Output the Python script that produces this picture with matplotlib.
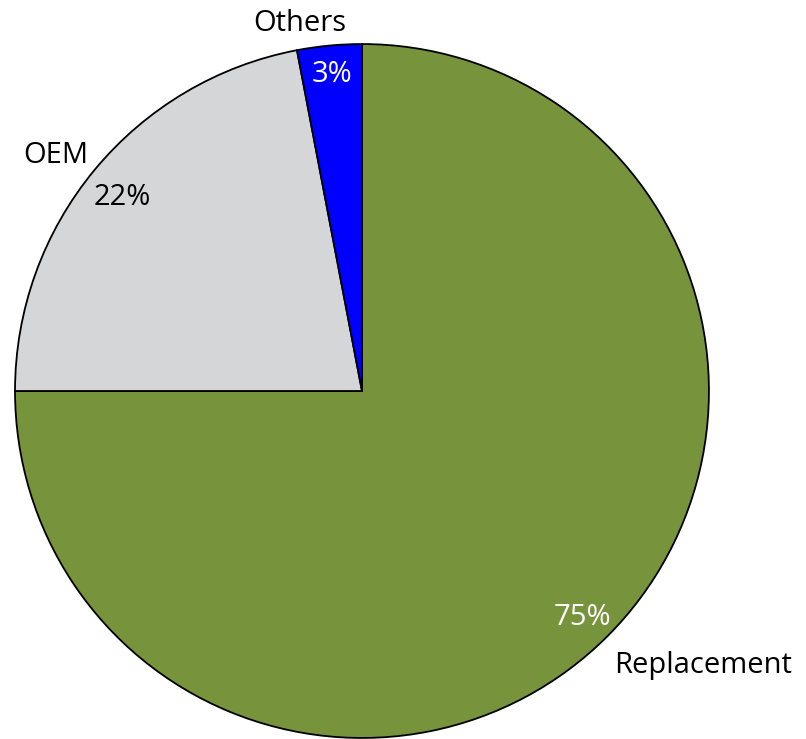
import matplotlib.pyplot as plt

labels = ["Replacement", "OEM", "Others"]
values = [75, 22, 3]
colors = ["#77933C", "#D5D6D8", "#0000FF"]
pct_colors = ["white", "black", "white"]

# label / pct text positions in pie data units (radius = 1)
label_pos = [(0.726, -0.79, "left"), (-0.882, 0.68, "center"), (-0.179, 1.058, "center")]
pct_pos = [(0.634, -0.652), (-0.692, 0.559), (-0.086, 0.913)]

fig = plt.figure(figsize=(8.06, 7.39), dpi=100)
ax = fig.add_axes([0.0186, 0.0014, 0.861, 0.939])
wedges, _ = ax.pie(values, colors=colors, startangle=90, counterclock=False,
                   wedgeprops=dict(edgecolor="black", linewidth=1.3))
ax.set_xlim(-1, 1)
ax.set_ylim(-1, 1)
ax.set_aspect("equal")
ax.axis("off")

for (x, y, ha), lab in zip(label_pos, labels):
    ax.text(x, y, lab, ha=ha, va="center", fontsize=21, family="Open Sans", clip_on=False)
for (x, y), v, c in zip(pct_pos, values, pct_colors):
    ax.text(x, y, f"{v}%", ha="center", va="center", fontsize=21, color=c, family="Open Sans")

fig.savefig("out.png", dpi=100)
